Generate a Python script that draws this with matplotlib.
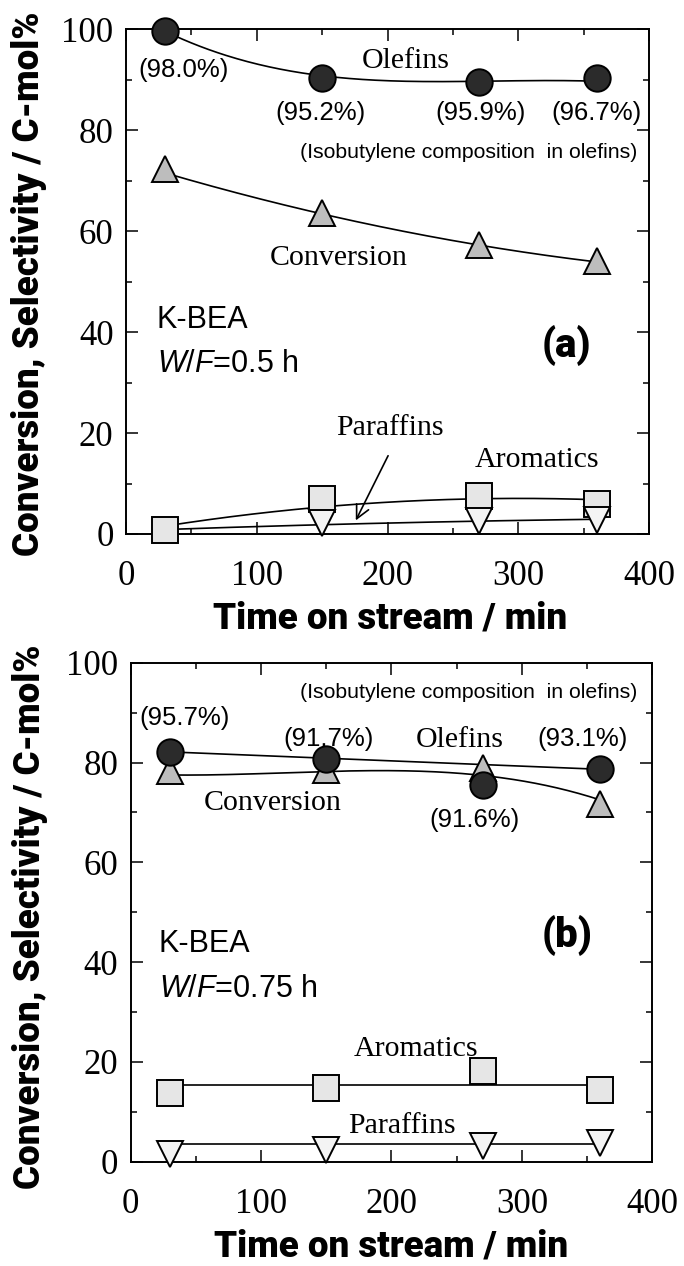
import numpy as np
import matplotlib
matplotlib.use('Agg')
import matplotlib.pyplot as plt
from matplotlib.ticker import MultipleLocator

# Дані
time_min = [30, 150, 270, 360]

# (a) K-BEA, W/F = 0.5 h
olef_a = [99.7, 90.4, 89.6, 90.3]
conv_a = [72.4, 63.7, 57.2, 54.0]
arom_a = [0.7, 6.9, 7.5, 5.9]
paraf_a = [np.nan, 2.1, 2.5, 2.7]
iso_a = ['(98.0%)', '(95.2%)', '(95.9%)', '(96.7%)']

# значення трендових кривих у точках вимірювань
olef_a_fit = [99.6, 90.8, 89.7, 89.7]
conv_a_fit = [71.6, 63.2, 57.5, 53.8]
arom_a_fit = [1.5, 5.6, 6.7, 6.9]
paraf_a_fit = [0.9, 1.8, 2.6, 2.9]

# (b) K-BEA, W/F = 0.75 h
olef_b = [82.2, 80.8, 75.4, 78.7]
conv_b = [78.3, 78.5, 78.8, 71.6]
arom_b = [13.7, 14.8, 18.2, 14.3]
paraf_b = [1.5, 2.3, 3.1, 3.8]
iso_b = ['(95.7%)', '(91.7%)', '(91.6%)', '(93.1%)']

olef_b_fit = [82.0, 81.0, 79.7, 78.5]
conv_b_fit = [77.5, 78.2, 77.4, 72.5]
arom_b_fit = [15.4, 15.4, 15.4, 15.4]
paraf_b_fit = [3.5, 3.5, 3.5, 3.5]

plt.rcParams['font.family'] = 'Liberation Serif'
plt.rcParams['mathtext.fontset'] = 'custom'
plt.rcParams['mathtext.rm'] = 'Liberation Sans'
plt.rcParams['mathtext.it'] = 'Liberation Sans:italic'

SANS = 'Liberation Sans'
SERIF = 'Liberation Serif'
HEAVY = dict(family='Roboto', weight='black')

fig = plt.figure(figsize=(6.84, 12.66), dpi=100)
ax1 = fig.add_axes([126 / 684, 1 - 534 / 1266, 523 / 684, 504.7 / 1266])
ax2 = fig.add_axes([130.7 / 684, 1 - 1161.7 / 1266, 521.6 / 684, 499 / 1266])


def trend(ax, x, y, deg):
    c = np.polyfit(x, y, deg)
    xs = np.linspace(x[0], x[-1], 200)
    ax.plot(xs, np.polyval(c, xs), color='k', lw=1.2, zorder=2)


def marks(ax, y, marker, face):
    ax.plot(time_min, y, ls='none', marker=marker, ms=19, mfc=face,
            mec='k', mew=1.4, clip_on=False, zorder=3)


def style(ax):
    ax.set_xlim(0, 400)
    ax.set_ylim(0, 100)
    ax.xaxis.set_major_locator(MultipleLocator(100))
    ax.xaxis.set_minor_locator(MultipleLocator(50))
    ax.yaxis.set_major_locator(MultipleLocator(20))
    ax.yaxis.set_minor_locator(MultipleLocator(10))
    ax.tick_params(which='both', direction='in', top=True, right=True, width=1.1)
    ax.tick_params(which='major', length=8.5, labelsize=25)
    ax.tick_params(which='minor', length=4.5)
    ax.tick_params(axis='x', pad=19)
    ax.tick_params(axis='y', pad=9)
    for s in ax.spines.values():
        s.set_linewidth(1.4)
    ax.set_xlabel('Time on stream / min', fontsize=26.5, va='center', **HEAVY)
    ax.set_ylabel('Conversion, Selectivity / C-mol%', fontsize=26.5, va='center', **HEAVY)


# ---- (a) ----
trend(ax1, time_min, olef_a_fit, 3)
trend(ax1, time_min, conv_a_fit, 2)
trend(ax1, time_min, arom_a_fit, 2)
trend(ax1, time_min, paraf_a_fit, 2)
marks(ax1, arom_a, 's', '#e6e6e6')
marks(ax1, paraf_a, 'v', '#f4f4f4')
marks(ax1, conv_a, '^', '#bdbdbd')
marks(ax1, olef_a, 'o', '#2b2b2b')

for lbl, (x, y) in zip(iso_a, [(44.4, 92.0), (148.4, 83.4), (271.5, 83.4), (360, 83.4)]):
    ax1.text(x, y, lbl, family=SANS, fontsize=18.5, ha='center', va='center')
ax1.text(262, 75.5, '(Isobutylene composition  in olefins)', family=SANS,
         fontsize=15.3, ha='center', va='center')
ax1.text(214, 92.3, 'Olefins', family=SERIF, fontsize=21.5, ha='center', va='baseline')
ax1.text(163, 53.3, 'Conversion', family=SERIF, fontsize=21.5, ha='center', va='baseline')
ax1.text(202, 19.6, 'Paraffins', family=SERIF, fontsize=21.5, ha='center', va='baseline')
ax1.text(314, 13.3, 'Aromatics', family=SERIF, fontsize=21.5, ha='center', va='baseline')
ax1.annotate('', xy=(174.8, 2.2), xytext=(201.4, 16.0),
             arrowprops=dict(arrowstyle='->', lw=1.2, color='k', mutation_scale=24))
ax1.text(23.7, 40.8, 'K-BEA', family=SANS, fontsize=22, ha='left', va='baseline')
ax1.text(23.7, 32.1, '$W/F$=0.5 h', family=SANS, fontsize=22, ha='left', va='baseline')
ax1.text(337, 37.3, '(a)', fontsize=29, ha='center', va='center', **HEAVY)
style(ax1)
ax1.xaxis.set_label_coords(0.505, -0.168)
ax1.yaxis.set_label_coords(-0.185, 0.495)

# ---- (b) ----
trend(ax2, time_min, olef_b_fit, 1)
trend(ax2, time_min, conv_b_fit, 3)
trend(ax2, time_min, arom_b_fit, 1)
trend(ax2, time_min, paraf_b_fit, 1)
marks(ax2, arom_b, 's', '#e6e6e6')
marks(ax2, paraf_b, 'v', '#f4f4f4')
marks(ax2, conv_b, '^', '#bdbdbd')
marks(ax2, olef_b, 'o', '#2b2b2b')

for lbl, (x, y) in zip(iso_b, [(41.6, 89.0), (151.7, 84.8), (263.3, 68.4), (346.5, 84.8)]):
    ax2.text(x, y, lbl, family=SANS, fontsize=18.5, ha='center', va='center')
ax2.text(259.4, 94.0, '(Isobutylene composition  in olefins)', family=SANS,
         fontsize=15.3, ha='center', va='center')
ax2.text(252.3, 83.1, 'Olefins', family=SERIF, fontsize=21.5, ha='center', va='baseline')
ax2.text(109.2, 70.5, 'Conversion', family=SERIF, fontsize=21.5, ha='center', va='baseline')
ax2.text(218.5, 21.2, 'Aromatics', family=SERIF, fontsize=21.5, ha='center', va='baseline')
ax2.text(207.7, 5.7, 'Paraffins', family=SERIF, fontsize=21.5, ha='center', va='baseline')
ax2.text(21.7, 42.1, 'K-BEA', family=SANS, fontsize=22, ha='left', va='baseline')
ax2.text(21.7, 33.1, '$W/F$=0.75 h', family=SANS, fontsize=22, ha='left', va='baseline')
ax2.text(334.6, 45.4, '(b)', fontsize=29, ha='center', va='center', **HEAVY)
style(ax2)
ax2.xaxis.set_label_coords(0.5, -0.17)
ax2.yaxis.set_label_coords(-0.193, 0.49)

fig.savefig('out.png', dpi=100)
